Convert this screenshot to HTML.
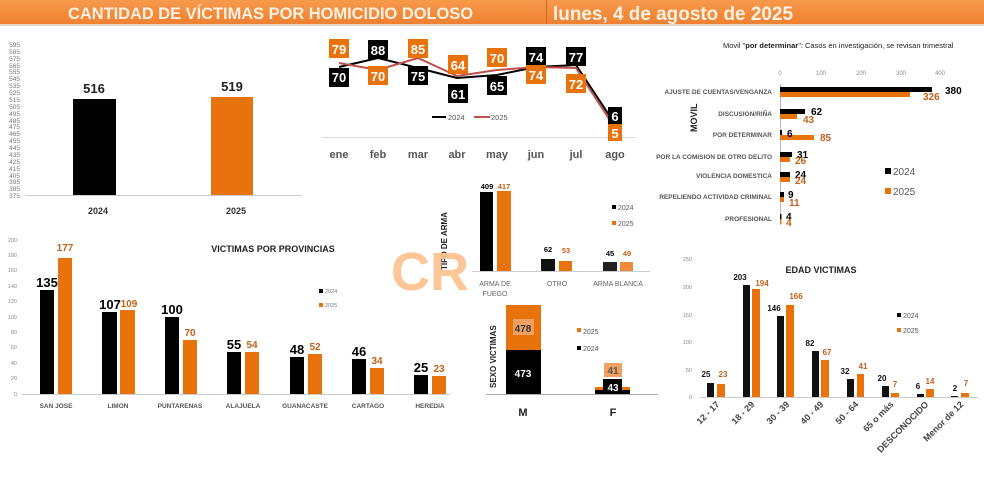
<!DOCTYPE html>
<html><head><meta charset="utf-8"><style>
html,body{margin:0;padding:0;background:#fff;}
svg{display:block;font-family:"Liberation Sans",sans-serif;}
</style></head><body>
<svg width="984" height="480" viewBox="0 0 984 480" xmlns="http://www.w3.org/2000/svg">
<defs><linearGradient id="hd" x1="0" y1="0" x2="0" y2="1"><stop offset="0" stop-color="#f79a4c"/><stop offset="1" stop-color="#ef8131"/></linearGradient></defs>
<rect x="0" y="0" width="984" height="24" fill="url(#hd)"/>
<rect x="0" y="24" width="984" height="2" fill="#e6d6c8"/>
<rect x="546" y="0" width="1" height="24" fill="#c76a22"/>
<text x="68" y="19" font-size="17" font-weight="bold" fill="#fdf1e4" textLength="405" lengthAdjust="spacingAndGlyphs">CANTIDAD DE VÍCTIMAS POR HOMICIDIO DOLOSO</text>
<text x="553" y="20" font-size="19" font-weight="bold" fill="#fdf1e4" textLength="240" lengthAdjust="spacingAndGlyphs">lunes, 4 de agosto de 2025</text>

<!-- total chart -->
<g font-size="6.5" fill="#777" text-anchor="end">
<text x="20" y="47">595</text><text x="20" y="54">585</text><text x="20" y="61">575</text><text x="20" y="68">565</text><text x="20" y="74">555</text><text x="20" y="81">545</text><text x="20" y="88">535</text><text x="20" y="95">525</text><text x="20" y="102">515</text><text x="20" y="109">505</text><text x="20" y="116">495</text><text x="20" y="123">485</text><text x="20" y="129">475</text><text x="20" y="136">465</text><text x="20" y="143">455</text><text x="20" y="150">445</text><text x="20" y="157">435</text><text x="20" y="164">425</text><text x="20" y="171">415</text><text x="20" y="178">405</text><text x="20" y="184">395</text><text x="20" y="191">385</text><text x="20" y="198">375</text>
</g>
<line x1="25" y1="195.5" x2="302" y2="195.5" stroke="#ccc"/>
<rect x="73" y="99" width="43" height="96" fill="#000"/>
<rect x="211" y="97" width="42" height="98" fill="#e8720c"/>
<text x="94" y="93" font-size="13" font-weight="bold" fill="#222" text-anchor="middle">516</text>
<text x="232" y="91" font-size="13" font-weight="bold" fill="#222" text-anchor="middle">519</text>
<text x="98" y="214" font-size="9" font-weight="bold" fill="#333" text-anchor="middle">2024</text>
<text x="236" y="214" font-size="9" font-weight="bold" fill="#333" text-anchor="middle">2025</text>

<!-- monthly line -->
<line x1="322" y1="137.5" x2="636" y2="137.5" stroke="#ddd"/>
<polyline points="339,67 378,58 418,68 457,78 497,75 536,67 576,65 615,124" fill="none" stroke="#000" stroke-width="2"/>
<polyline points="339,63 378,70 418,58 457,76 497,70 536,67 576,68 615,128" fill="none" stroke="#c0504d" stroke-width="2"/>
<g font-size="13" font-weight="bold" text-anchor="middle" fill="#fff">
<rect x="329" y="68" width="20" height="19" fill="#000"/><text x="339" y="82">70</text>
<rect x="368" y="40" width="20" height="19" fill="#000"/><text x="378" y="55">88</text>
<rect x="408" y="66" width="20" height="19" fill="#000"/><text x="418" y="81">75</text>
<rect x="448" y="84" width="20" height="19" fill="#000"/><text x="458" y="99">61</text>
<rect x="487" y="76" width="20" height="19" fill="#000"/><text x="497" y="91">65</text>
<rect x="526" y="47" width="20" height="19" fill="#000"/><text x="536" y="62">74</text>
<rect x="566" y="47" width="20" height="19" fill="#000"/><text x="576" y="62">77</text>
<rect x="608" y="107" width="14" height="17" fill="#000"/><text x="615" y="121">6</text>
<rect x="329" y="39" width="20" height="19" fill="#e8720c"/><text x="339" y="54">79</text>
<rect x="368" y="66" width="20" height="19" fill="#e8720c"/><text x="378" y="81">70</text>
<rect x="408" y="39" width="20" height="19" fill="#e8720c"/><text x="418" y="54">85</text>
<rect x="448" y="55" width="20" height="19" fill="#e8720c"/><text x="458" y="70">64</text>
<rect x="487" y="48" width="20" height="19" fill="#e8720c"/><text x="497" y="63">70</text>
<rect x="526" y="65" width="20" height="19" fill="#e8720c"/><text x="536" y="80">74</text>
<rect x="566" y="74" width="20" height="19" fill="#e8720c"/><text x="576" y="89">72</text>
<rect x="608" y="124" width="14" height="17" fill="#e8720c"/><text x="615" y="138">5</text>
</g>
<line x1="432" y1="117" x2="446" y2="117" stroke="#000" stroke-width="2"/><text x="448" y="120" font-size="7.5" fill="#555">2024</text>
<line x1="474" y1="117" x2="490" y2="117" stroke="#c0504d" stroke-width="2"/><text x="491" y="120" font-size="7.5" fill="#555">2025</text>
<g font-size="11" font-weight="bold" fill="#555" text-anchor="middle">
<text x="339" y="158">ene</text><text x="378" y="158">feb</text><text x="418" y="158">mar</text><text x="457" y="158">abr</text><text x="497" y="158">may</text><text x="536" y="158">jun</text><text x="576" y="158">jul</text><text x="615" y="158">ago</text>
</g>

<!-- movil -->
<text x="723" y="48" font-size="7.5" fill="#222">Movil "<tspan font-weight="bold">por determinar</tspan>": Casos en investigación, se revisan trimestral</text>
<g font-size="6" fill="#888" text-anchor="middle"><text x="780" y="75">0</text><text x="821" y="75">100</text><text x="861" y="75">200</text><text x="901" y="75">300</text><text x="940" y="75">400</text></g>
<line x1="780.5" y1="84" x2="780.5" y2="225" stroke="#bbb"/>
<g font-size="6.5" font-weight="bold" fill="#555" text-anchor="end">
<text x="772" y="94">AJUSTE DE CUENTAS/VENGANZA</text>
<text x="772" y="116">DISCUSION/RIÑA</text>
<text x="772" y="137">POR DETERMINAR</text>
<text x="772" y="159">POR LA COMISION DE OTRO DELITO</text>
<text x="772" y="178">VIOLENCIA DOMESTICA</text>
<text x="772" y="199">REPELIENDO ACTIVIDAD CRIMINAL</text>
<text x="772" y="221">PROFESIONAL</text>
</g>
<text transform="translate(697,132) rotate(-90)" font-size="9" font-weight="bold" fill="#222">MOVIL</text>
<rect x="780" y="87" width="152" height="5" fill="#000"/><rect x="780" y="92" width="130" height="5" fill="#e8720c"/>
<rect x="780" y="109" width="25" height="5" fill="#000"/><rect x="780" y="114" width="17" height="5" fill="#e8720c"/>
<rect x="780" y="130" width="2" height="5" fill="#000"/><rect x="780" y="135" width="34" height="5" fill="#e8720c"/>
<rect x="780" y="152" width="12" height="5" fill="#000"/><rect x="780" y="157" width="10" height="5" fill="#e8720c"/>
<rect x="780" y="172" width="10" height="5" fill="#000"/><rect x="780" y="177" width="10" height="5" fill="#e8720c"/>
<rect x="780" y="192" width="4" height="5" fill="#000"/><rect x="780" y="197" width="4" height="5" fill="#e8720c"/>
<rect x="780" y="214" width="1.5" height="5" fill="#000"/><rect x="780" y="219" width="1.5" height="5" fill="#e8720c"/>
<g font-size="10" font-weight="bold">
<text x="945" y="94" fill="#000">380</text><text x="923" y="100" fill="#c2611a">326</text>
<text x="811" y="115" fill="#000">62</text><text x="803" y="123" fill="#c2611a">43</text>
<text x="787" y="137" fill="#000">6</text><text x="820" y="141" fill="#c2611a">85</text>
<text x="797" y="158" fill="#000">31</text><text x="795" y="164" fill="#c2611a">26</text>
<text x="795" y="178" fill="#000">24</text><text x="795" y="184" fill="#c2611a">24</text>
<text x="788" y="198" fill="#000">9</text><text x="789" y="206" fill="#c2611a">11</text>
<text x="786" y="220" fill="#000">4</text><text x="786" y="226" fill="#c2611a">4</text>
</g>
<rect x="885" y="168" width="6" height="6" fill="#000"/><text x="893" y="175" font-size="10" fill="#555">2024</text>
<rect x="885" y="188" width="6" height="6" fill="#e8720c"/><text x="893" y="195" font-size="10" fill="#555">2025</text>

<!-- provincias -->
<g font-size="5.5" fill="#888" text-anchor="end">
<text x="17" y="242">200</text><text x="17" y="257">180</text><text x="17" y="272">160</text><text x="17" y="288">140</text><text x="17" y="303">120</text><text x="17" y="319">100</text><text x="17" y="334">80</text><text x="17" y="349">60</text><text x="17" y="365">40</text><text x="17" y="380">20</text><text x="17" y="396">0</text>
</g>
<line x1="22" y1="394.5" x2="450" y2="394.5" stroke="#ccc"/>
<text x="273" y="252" font-size="9" font-weight="bold" fill="#222" text-anchor="middle">VICTIMAS POR PROVINCIAS</text>
<rect x="319" y="289" width="4" height="4" fill="#000"/><text x="325" y="293" font-size="5.5" fill="#777">2024</text>
<rect x="319" y="303" width="4" height="4" fill="#e8720c"/><text x="325" y="307" font-size="5.5" fill="#777">2025</text>
<g fill="#000"><rect x="40" y="290" width="14" height="104"/><rect x="102" y="312" width="15" height="82"/><rect x="165" y="317" width="14" height="77"/><rect x="227" y="352" width="14" height="42"/><rect x="290" y="357" width="14" height="37"/><rect x="352" y="359" width="14" height="35"/><rect x="414" y="375" width="14" height="19"/></g>
<g fill="#e8720c"><rect x="58" y="258" width="14" height="136"/><rect x="120" y="310" width="15" height="84"/><rect x="183" y="340" width="14" height="54"/><rect x="245" y="352" width="14" height="42"/><rect x="308" y="354" width="14" height="40"/><rect x="370" y="368" width="14" height="26"/><rect x="432" y="376" width="14" height="18"/></g>
<g font-size="13" font-weight="bold" fill="#000" text-anchor="middle">
<text x="47" y="287">135</text><text x="110" y="309">107</text><text x="172" y="314">100</text><text x="234" y="349">55</text><text x="297" y="354">48</text><text x="359" y="356">46</text><text x="421" y="372">25</text>
</g>
<g font-size="10" font-weight="bold" fill="#c2611a" text-anchor="middle">
<text x="65" y="251">177</text><text x="129" y="307">109</text><text x="190" y="336">70</text><text x="252" y="348">54</text><text x="315" y="350">52</text><text x="377" y="364">34</text><text x="439" y="372">23</text>
</g>
<g font-size="6.5" font-weight="bold" fill="#555" text-anchor="middle">
<text x="56" y="408">SAN JOSE</text><text x="118" y="408">LIMON</text><text x="180" y="408">PUNTARENAS</text><text x="243" y="408">ALAJUELA</text><text x="305" y="408">GUANACASTE</text><text x="368" y="408">CARTAGO</text><text x="430" y="408">HEREDIA</text>
</g>

<!-- tipo de arma -->
<line x1="472" y1="271.5" x2="650" y2="271.5" stroke="#ccc"/>
<text transform="translate(447,270) rotate(-90)" font-size="8" font-weight="bold" fill="#222">TIPO DE ARMA</text>
<rect x="480" y="192" width="13" height="79" fill="#000"/><rect x="497" y="191" width="14" height="80" fill="#e8720c"/>
<rect x="541" y="259" width="14" height="12" fill="#111"/><rect x="559" y="261" width="13" height="10" fill="#e8720c"/>
<rect x="603" y="262" width="14" height="9" fill="#222"/><rect x="620" y="262" width="13" height="9" fill="#f08a3a"/>
<g font-size="7.5" font-weight="bold" text-anchor="middle">
<text x="487" y="189" fill="#000">409</text><text x="504" y="189" fill="#c2611a">417</text>
<text x="548" y="252" fill="#000">62</text><text x="566" y="253" fill="#c2611a">53</text>
<text x="610" y="256" fill="#000">45</text><text x="627" y="256" fill="#c2611a">49</text>
</g>
<g font-size="7" fill="#666" text-anchor="middle"><text x="495" y="286">ARMA DE</text><text x="495" y="296">FUEGO</text><text x="557" y="286">OTRO</text><text x="618" y="286">ARMA BLANCA</text></g>
<rect x="612" y="205" width="4" height="4" fill="#000"/><text x="618" y="210" font-size="7" fill="#555">2024</text>
<rect x="612" y="221" width="4" height="4" fill="#e8720c"/><text x="618" y="226" font-size="7" fill="#555">2025</text>

<!-- CR watermark -->
<text x="391" y="290" font-size="54" font-weight="bold" fill="#fcc08c" opacity="0.9">CR</text>

<!-- sexo -->
<line x1="486" y1="394.5" x2="658" y2="394.5" stroke="#aaa"/>
<text transform="translate(496,388) rotate(-90)" font-size="8" font-weight="bold" fill="#222">SEXO VICTIMAS</text>
<rect x="506" y="305" width="35" height="45" fill="#e8720c"/><rect x="506" y="350" width="35" height="44" fill="#000"/>
<rect x="513" y="319" width="21" height="16" fill="#f2a060"/>
<text x="523" y="332" font-size="10" font-weight="bold" fill="#333" text-anchor="middle">478</text>
<text x="523" y="377" font-size="10" font-weight="bold" fill="#fff" text-anchor="middle">473</text>
<rect x="595" y="387" width="35" height="3" fill="#e8720c"/><rect x="595" y="390" width="35" height="4" fill="#000"/>
<rect x="604" y="363" width="18" height="14" fill="#f2a060"/><text x="613" y="374" font-size="10" font-weight="bold" fill="#555" text-anchor="middle">41</text>
<rect x="603" y="379" width="19" height="15" fill="#000"/><text x="613" y="391" font-size="10" font-weight="bold" fill="#fff" text-anchor="middle">43</text>
<rect x="577" y="328" width="4" height="4" fill="#e8720c"/><text x="583" y="334" font-size="7" fill="#555">2025</text>
<rect x="577" y="346" width="4" height="4" fill="#000"/><text x="583" y="351" font-size="7" fill="#555">2024</text>
<text x="523" y="416" font-size="11" font-weight="bold" fill="#222" text-anchor="middle">M</text>
<text x="613" y="416" font-size="11" font-weight="bold" fill="#222" text-anchor="middle">F</text>

<!-- edad -->
<g font-size="5.5" fill="#888" text-anchor="end">
<text x="692" y="261">250</text><text x="692" y="289">200</text><text x="692" y="317">150</text><text x="692" y="344">100</text><text x="692" y="372">50</text><text x="692" y="399">0</text>
</g>
<line x1="700" y1="397.5" x2="978" y2="397.5" stroke="#ccc"/>
<text x="821" y="273" font-size="9" font-weight="bold" fill="#222" text-anchor="middle">EDAD VICTIMAS</text>
<rect x="897" y="313" width="4" height="4" fill="#000"/><text x="903" y="318" font-size="7" fill="#555">2024</text>
<rect x="897" y="328" width="4" height="4" fill="#e8720c"/><text x="903" y="333" font-size="7" fill="#555">2025</text>
<g fill="#111"><rect x="707" y="383" width="7" height="14"/><rect x="743" y="285" width="7" height="112"/><rect x="777" y="316" width="7" height="81"/><rect x="812" y="351" width="7" height="46"/><rect x="847" y="379" width="7" height="18"/><rect x="882" y="386" width="7" height="11"/><rect x="917" y="394" width="7" height="3"/><rect x="951" y="396" width="7" height="1"/></g>
<g fill="#e8720c"><rect x="717" y="384" width="8" height="13"/><rect x="752" y="289" width="8" height="108"/><rect x="786" y="305" width="8" height="92"/><rect x="821" y="360" width="8" height="37"/><rect x="857" y="374" width="7" height="23"/><rect x="891" y="393" width="8" height="4"/><rect x="926" y="389" width="8" height="8"/><rect x="961" y="393" width="8" height="4"/></g>
<g font-size="8" font-weight="bold" fill="#111" text-anchor="middle">
<text x="706" y="377">25</text><text x="740" y="280">203</text><text x="774" y="311">146</text><text x="810" y="346">82</text><text x="845" y="374">32</text><text x="882" y="381">20</text><text x="918" y="389">6</text><text x="955" y="391">2</text>
</g>
<g font-size="8" font-weight="bold" fill="#c2611a" text-anchor="middle">
<text x="723" y="377">23</text><text x="762" y="286">194</text><text x="796" y="299">166</text><text x="827" y="355">67</text><text x="863" y="369">41</text><text x="895" y="387">7</text><text x="930" y="384">14</text><text x="966" y="386">7</text>
</g>
<g font-size="9" font-weight="bold" fill="#444" text-anchor="end">
<text transform="translate(720,405) rotate(-45)">12 - 17</text>
<text transform="translate(755,405) rotate(-45)">18 - 29</text>
<text transform="translate(790,405) rotate(-45)">30 - 39</text>
<text transform="translate(824,405) rotate(-45)">40 - 49</text>
<text transform="translate(859,405) rotate(-45)">50 - 64</text>
<text transform="translate(894,405) rotate(-45)">65 o más</text>
<text transform="translate(929,405) rotate(-45)">DESCONOCIDO</text>
<text transform="translate(964,405) rotate(-45)">Menor de 12</text>
</g>
</svg>
</body></html>
